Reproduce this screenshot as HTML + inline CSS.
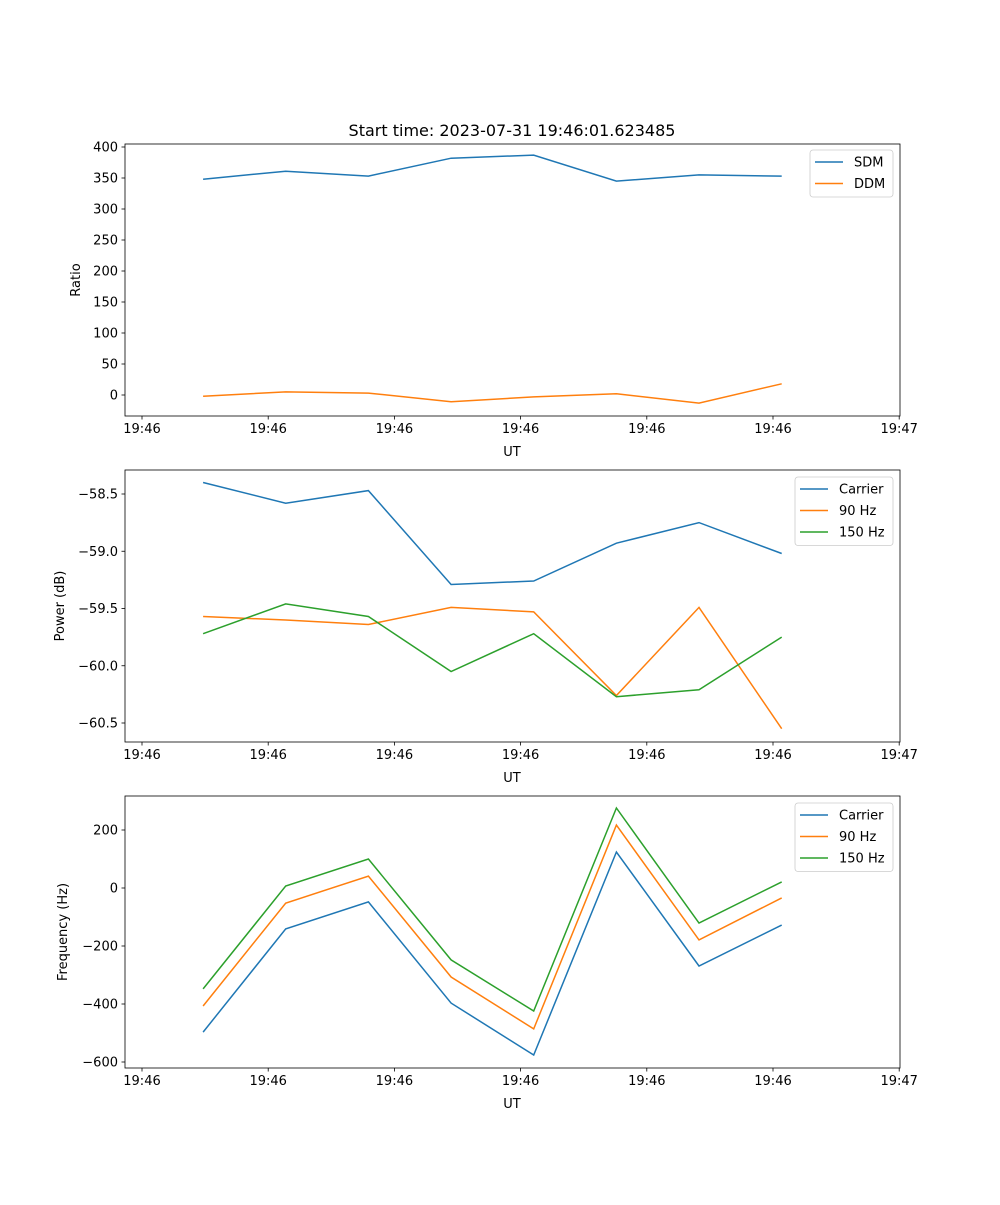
<!DOCTYPE html>
<html><head><meta charset="utf-8"><style>
body{margin:0;background:#fff}
svg text{font-family:"DejaVu Sans","Liberation Sans",sans-serif;fill:#000}
</style></head><body>
<svg id="fig" width="1000" height="1200" xmlns="http://www.w3.org/2000/svg">
<rect width="1000" height="1200" fill="#fff"/>
<text x="512" y="136" font-size="16" text-anchor="middle">Start time: 2023-07-31 19:46:01.623485</text>
</svg>
<script>
const times = [4.84, 11.39, 17.94, 24.49, 31.04, 37.59, 44.14, 50.69];
const xTicks = [0, 10, 20, 30, 40, 50, 60];
const xTickLabels = ["19:46","19:46","19:46","19:46","19:46","19:46","19:47"];
const sdm = [348, 361, 353, 382, 387, 345, 355, 353];
const ddm = [-2, 5, 3, -11, -3, 2, -13, 18];
const powCarrier = [-58.40, -58.58, -58.47, -59.29, -59.26, -58.93, -58.75, -59.02];
const pow90 = [-59.57, -59.60, -59.64, -59.49, -59.53, -60.26, -59.49, -60.55];
const pow150 = [-59.72, -59.46, -59.57, -60.05, -59.72, -60.27, -60.21, -59.75];
const freqCarrier = [-497, -141, -48, -397, -576, 124, -269, -128];
const freq90 = [-407, -52, 41, -307, -486, 217, -179, -34];
const freq150 = [-348, 7, 100, -248, -424, 276, -121, 21];
const ratioTicks = [0, 50, 100, 150, 200, 250, 300, 350, 400];
const powTicks = [-60.5, -60.0, -59.5, -59.0, -58.5];
const freqTicks = [-600, -400, -200, 0, 200];

const NS = "http://www.w3.org/2000/svg";
const svg = document.getElementById('fig');
function mk(tag, attrs, parent){const e=document.createElementNS(NS,tag);for(const k in attrs)e.setAttribute(k,attrs[k]);(parent||svg).appendChild(e);return e;}
const L=125,R=900;
const xs = t => 142 + (t/10)*126.2;

function panel(name, top, bottom, yFn, yTicks, yLabelFmt, ylabel, series, legend){
  const g = mk('g',{});
  
  
  series.forEach(s=>{
    const d = s.vals.map((v,i)=>(i?'L':'M')+xs(times[i]).toFixed(1)+' '+yFn(v).toFixed(1)).join(' ');
    const p = mk('path',{d:d,fill:'none',stroke:s.color,'stroke-width':1.5},g);
    
    
  });
  const fr = mk('rect',{x:L,y:top,width:R-L,height:bottom-top,fill:'none',stroke:'#000','stroke-width':0.8},g);
  
  
  xTicks.forEach((t,i)=>{
    const x=xs(t);
    mk('line',{x1:x,x2:x,y1:bottom,y2:bottom+3.5,stroke:'#000','stroke-width':0.8},g);
    const tx = mk('text',{x:x,y:bottom+17,'font-size':13,'text-anchor':'middle'},g);
    tx.textContent = xTickLabels[i];
    
    
  });
  const xl = mk('text',{x:512,y:bottom+40,'font-size':13,'text-anchor':'middle'},g);
  xl.textContent='UT';
  
  
  yTicks.forEach(v=>{
    const y=yFn(v);
    mk('line',{x1:L,x2:L-3.5,y1:y,y2:y,stroke:'#000','stroke-width':0.8},g);
    const tx = mk('text',{x:L-7,y:y+4.5,'font-size':13,'text-anchor':'end'},g);
    tx.textContent = yLabelFmt(v);
    
    
  });
  const yc=(top+bottom)/2;
  const yl = mk('text',{x:0,y:0,'font-size':13,'text-anchor':'middle',transform:`translate(${legend.ylx},${yc}) rotate(-90)`},g);
  yl.textContent=ylabel;
  
  
  const lg = mk('g',{},g);
  
  
  mk('rect',{x:legend.x,y:legend.y,width:legend.w,height:series.length*21.5+4,rx:3,fill:'#fff','fill-opacity':0.8,stroke:'#ccc','stroke-width':0.8},lg);
  series.forEach((s,i)=>{
    const y=legend.y+12+i*21.5;
    mk('line',{x1:legend.x+5,x2:legend.x+33,y1:y,y2:y,stroke:s.color,'stroke-width':1.5},lg);
    const t=mk('text',{x:legend.x+44,y:y+4.5,'font-size':13},lg);
    t.textContent=s.label;
    
    
  });
}
const minus = s => s.replace('-', '\u2212');
panel('ratio',144,416,v=>395-v*0.62,ratioTicks,v=>minus(String(v)),'Ratio',
  [{key:'sdm',label:'SDM',color:'#1f77b4',vals:sdm},{key:'ddm',label:'DDM',color:'#ff7f0e',vals:ddm}],
  {x:810,y:150,w:83,ylx:80});
panel('power',470,742,v=>494+(-58.5-v)*114.5,powTicks,v=>minus(v.toFixed(1)),'Power (dB)',
  [{key:'carrier',label:'Carrier',color:'#1f77b4',vals:powCarrier},{key:'90hz',label:'90 Hz',color:'#ff7f0e',vals:pow90},{key:'150hz',label:'150 Hz',color:'#2ca02c',vals:pow150}],
  {x:795,y:477,w:98,ylx:64});
panel('frequency',796,1068,v=>888-v*0.29,freqTicks,v=>minus(String(v)),'Frequency (Hz)',
  [{key:'carrier',label:'Carrier',color:'#1f77b4',vals:freqCarrier},{key:'90hz',label:'90 Hz',color:'#ff7f0e',vals:freq90},{key:'150hz',label:'150 Hz',color:'#2ca02c',vals:freq150}],
  {x:795,y:803,w:98,ylx:67});
</script>
</body></html>
